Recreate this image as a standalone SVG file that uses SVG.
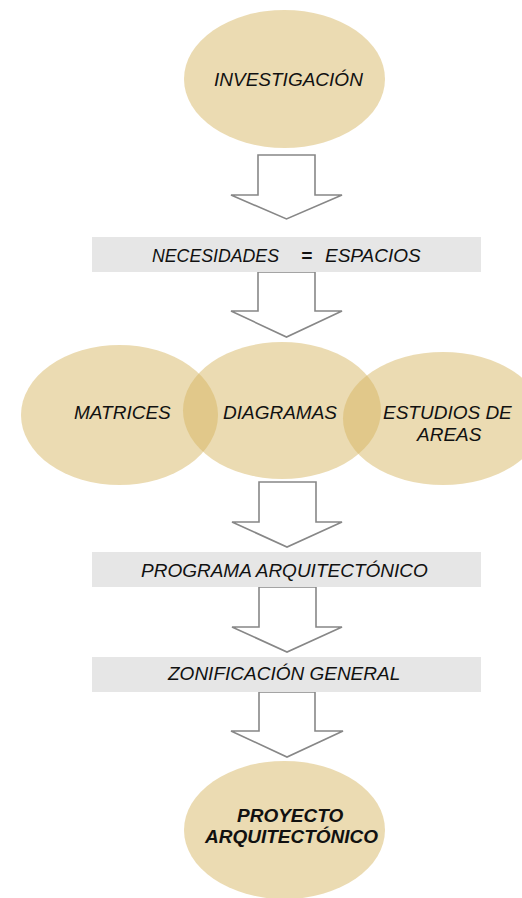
<svg xmlns="http://www.w3.org/2000/svg" width="522" height="898" viewBox="0 0 522 898">
<style>
.ell{fill:#d6b35e;fill-opacity:0.48;stroke:none}
.bar{fill:#e6e6e6;stroke:none}
.arr{fill:#ffffff;stroke:#878787;stroke-width:1.6;stroke-linejoin:miter}
.t{font-family:"Liberation Sans",Arial,sans-serif;font-size:19px;font-style:italic;fill:#111111}
.b{font-weight:bold}
</style>
<rect x="0" y="0" width="522" height="898" fill="#ffffff"/>
<g id="connectors">
<polygon class="arr" points="258,155 315,155 315,195 342,195 286.5,219 231,195 258,195"/>
<polygon class="arr" points="258,272 315,272 315,311 342,311 286.5,337 231,311 258,311"/>
<polygon class="arr" points="259,482 316,482 316,522 342,522 287,547 232,522 259,522"/>
<polygon class="arr" points="259,587 316,587 316,627 342,627 287,652 232,627 259,627"/>
<polygon class="arr" points="259,692 315,692 315,731 343,731 287,757 231,731 259,731"/>
</g>
<g id="investigacion">
<ellipse class="ell" cx="284.5" cy="79" rx="100.5" ry="69"/>
<text class="t" x="214" y="86">INVESTIGACIÓN</text>
</g>
<g id="necesidades">
<rect class="bar" x="92" y="237" width="389" height="35"/>
<text class="t" x="152" y="261.5" textLength="127" lengthAdjust="spacingAndGlyphs">NECESIDADES</text>
<text class="t b" x="301" y="261.5">=</text>
<text class="t" x="325" y="261.5">ESPACIOS</text>
</g>
<g id="matrices">
<ellipse class="ell" cx="119.5" cy="415" rx="98.5" ry="70"/>
<text class="t" x="74" y="419">MATRICES</text>
</g>
<g id="diagramas">
<ellipse class="ell" cx="282" cy="410.5" rx="99" ry="68.5"/>
<text class="t" x="223" y="419">DIAGRAMAS</text>
</g>
<g id="estudios">
<ellipse class="ell" cx="443" cy="418.5" rx="100" ry="66.5"/>
<text class="t" y="419"><tspan x="383">ESTUDIOS DE</tspan><tspan x="417" y="441">AREAS</tspan></text>
</g>
<g id="programa">
<rect class="bar" x="92" y="552" width="389" height="35"/>
<text class="t" x="141" y="577">PROGRAMA ARQUITECTÓNICO</text>
</g>
<g id="zonificacion">
<rect class="bar" x="92" y="657" width="389" height="35"/>
<text class="t" x="168" y="680">ZONIFICACIÓN GENERAL</text>
</g>
<g id="proyecto">
<ellipse class="ell" cx="284.5" cy="830" rx="100.5" ry="69"/>
<text class="t b" y="822"><tspan x="237">PROYECTO</tspan><tspan x="205" y="843">ARQUITECTÓNICO</tspan></text>
</g>
</svg>
